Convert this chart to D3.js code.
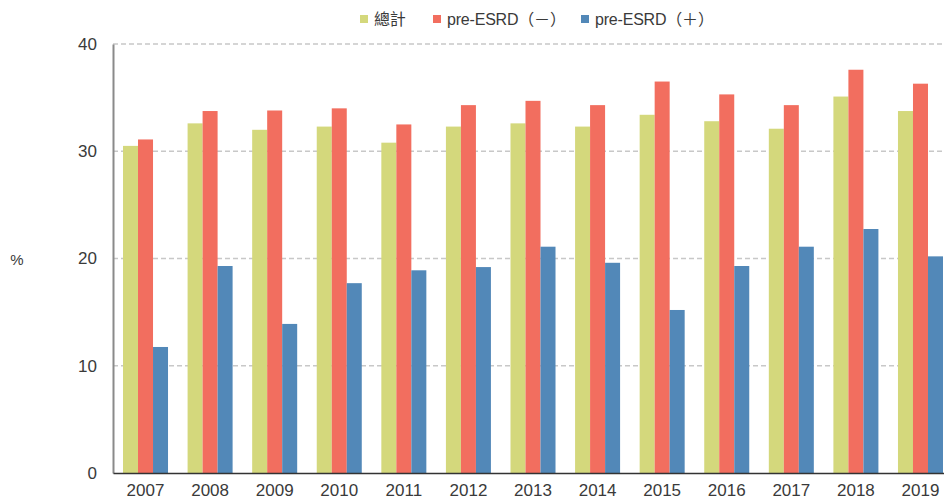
<!DOCTYPE html>
<html>
<head>
<meta charset="utf-8">
<script src="https://cdn.jsdelivr.net/npm/d3@7"></script>
<style>
  body { margin: 0; background: #fff; }
  svg { font-family: "Liberation Sans", "Noto Sans CJK TC", sans-serif; }
</style>
</head>
<body>
<div id="chart"></div>
<script>
"use strict";

var years = ['2007', '2008', '2009', '2010', '2011', '2012', '2013', '2014', '2015', '2016', '2017', '2018', '2019']
var seriesNames = ['總計', 'pre-ESRD（－）', 'pre-ESRD（＋）']
var total = [30.5, 32.6, 32.0, 32.3, 30.8, 32.3, 32.6, 32.3, 33.4, 32.8, 32.1, 35.1, 33.75]
var preMinus = [31.1, 33.75, 33.8, 34.0, 32.5, 34.3, 34.7, 34.3, 36.5, 35.3, 34.3, 37.6, 36.3]
var prePlus = [11.75, 19.3, 13.9, 17.7, 18.9, 19.2, 21.1, 19.6, 15.2, 19.3, 21.1, 22.75, 20.2]
var yTicks = [0, 10, 20, 30, 40]
var colors = ['#d4d87c', '#f26e5f', '#5288b8']

var width = 944, height = 502
var margin = { top: 44, right: -9, bottom: 29, left: 113 }

var svg = d3.select('#chart').append('svg')
    .attr('width', width)
    .attr('height', height)

var y = d3.scaleLinear()
    .domain([0, 40])
    .range([height - margin.bottom, margin.top])

var x = d3.scaleBand()
    .domain(years)
    .range([margin.left, width - margin.right])
    .paddingInner(0.303)
    .paddingOuter(0.155)

var xSub = d3.scaleBand()
    .domain(d3.range(3))
    .range([0, x.bandwidth()])

// grid lines
svg.append('g')
    .selectAll('line')
    .data(yTicks.filter(d => d > 0))
    .enter()
    .append('line')
    .attr('x1', margin.left)
    .attr('x2', width)
    .attr('y1', d => y(d))
    .attr('y2', d => y(d))
    .attr('stroke', '#c8c8c8')
    .attr('stroke-width', 1.3)
    .attr('stroke-dasharray', '5,3')

// bars
var rows = years.map((yr, i) => ({ year: yr, values: [total[i], preMinus[i], prePlus[i]] }))

var groups = svg.append('g')
    .selectAll('g')
    .data(rows)
    .enter()
    .append('g')
    .attr('transform', d => 'translate(' + x(d.year) + ',0)')

groups.selectAll('rect')
    .data(d => d.values)
    .enter()
    .append('rect')
    .attr('x', (d, i) => xSub(i))
    .attr('y', d => y(d))
    .attr('width', xSub.bandwidth())
    .attr('height', d => y(0) - y(d))
    .attr('fill', (d, i) => colors[i])

// y axis
var yAxis = svg.append('g')
    .attr('transform', 'translate(' + margin.left + ',0)')
    .call(d3.axisLeft(y).tickValues(yTicks).tickSize(0).tickPadding(16))
yAxis.select('.domain').attr('stroke', '#8a8a8a').attr('stroke-width', 2)
yAxis.selectAll('text')
    .attr('font-size', 17)
    .attr('fill', '#3a3a3a')
    .attr('font-family', '"Liberation Sans", sans-serif')

// x axis
var xAxis = svg.append('g')
    .attr('transform', 'translate(0,' + y(0) + ')')
    .call(d3.axisBottom(x).tickSize(0).tickPadding(11))
xAxis.select('.domain').attr('stroke', '#333').attr('stroke-width', 1.5)
xAxis.selectAll('text')
    .attr('font-size', 17)
    .attr('fill', '#3a3a3a')
    .attr('font-family', '"Liberation Sans", sans-serif')

// unit label
svg.append('text')
    .text('%')
    .attr('x', 17)
    .attr('y', 265)
    .attr('text-anchor', 'middle')
    .attr('font-size', 15)
    .attr('fill', '#3a3a3a')

// legend
var legendX = [360, 433, 581]
var legend = svg.append('g')
    .selectAll('g')
    .data(seriesNames)
    .enter()
    .append('g')
    .attr('transform', (d, i) => 'translate(' + legendX[i] + ',0)')

legend.append('rect')
    .attr('x', 0)
    .attr('y', 15)
    .attr('width', 8)
    .attr('height', 8)
    .attr('fill', (d, i) => colors[i])

legend.append('text')
    .text(d => d)
    .attr('x', 14)
    .attr('y', 25)
    .attr('font-size', 16)
    .attr('letter-spacing', -0.2)
    .attr('fill', '#3a3a3a')
</script>
</body>
</html>
